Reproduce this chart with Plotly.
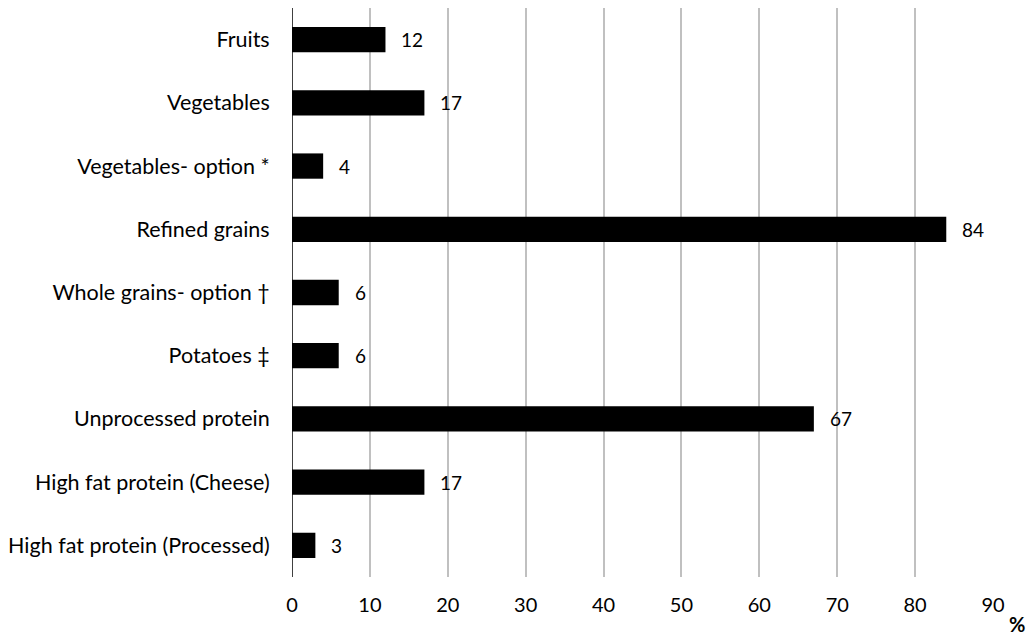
import plotly.graph_objects as go

# Share of items in each food group (%)
categories = [
    "Fruits",
    "Vegetables",
    "Vegetables- option *",
    "Refined grains",
    "Whole grains- option \u2020",
    "Potatoes \u2021",
    "Unprocessed protein",
    "High fat protein (Cheese)",
    "High fat protein (Processed)",
]
values = [12, 17, 4, 84, 6, 6, 67, 17, 3]
x_ticks = [0, 10, 20, 30, 40, 50, 60, 70, 80, 90]

FONT = "Lato, 'Open Sans', sans-serif"

fig = go.Figure()
fig.add_trace(go.Bar(
    x=values,
    y=categories,
    orientation="h",
    width=0.4,
    marker=dict(color="black", line=dict(width=0)),
    showlegend=False,
    hoverinfo="skip",
))

# value labels just past each bar end
for c, v in zip(categories, values):
    fig.add_annotation(
        x=v, y=c, xref="x", yref="y",
        text=str(v), showarrow=False,
        xanchor="left", yanchor="middle", xshift=14,
        font=dict(family=FONT, size=19, color="black"),
    )

# unit label below the right end of the value axis
fig.add_annotation(
    x=1.034, y=-0.082, xref="paper", yref="paper",
    text="<b>%</b>", showarrow=False,
    xanchor="center", yanchor="middle",
    font=dict(family=FONT, size=20, color="black"),
)

fig.update_layout(
    width=1031, height=635,
    margin=dict(l=292, r=38, t=8, b=58, autoexpand=False),
    paper_bgcolor="white", plot_bgcolor="white",
    font=dict(family=FONT, size=20, color="black"),
    xaxis=dict(
        range=[0, 90],
        tickvals=x_ticks,
        automargin=False,
        showgrid=True, gridcolor="#c0c0c0", gridwidth=1.5,
        zeroline=False, showline=False,
        ticks="outside", ticklen=10, tickcolor="rgba(0,0,0,0)",
        tickfont=dict(family=FONT, size=20, color="black"),
        fixedrange=True,
    ),
    yaxis=dict(
        categoryorder="array", categoryarray=categories[::-1],
        automargin=False,
        showgrid=False, zeroline=False,
        showline=False,
        ticks="outside", ticklen=17, tickcolor="rgba(0,0,0,0)",
        tickfont=dict(family=FONT, size=21.5, color="black"),
        fixedrange=True,
    ),
)

# the value axis baseline at 0
fig.add_shape(
    type="line", xref="x", yref="paper",
    x0=0, x1=0, y0=0, y1=1,
    line=dict(color="black", width=1.5),
)

fig.write_html("out.html")
